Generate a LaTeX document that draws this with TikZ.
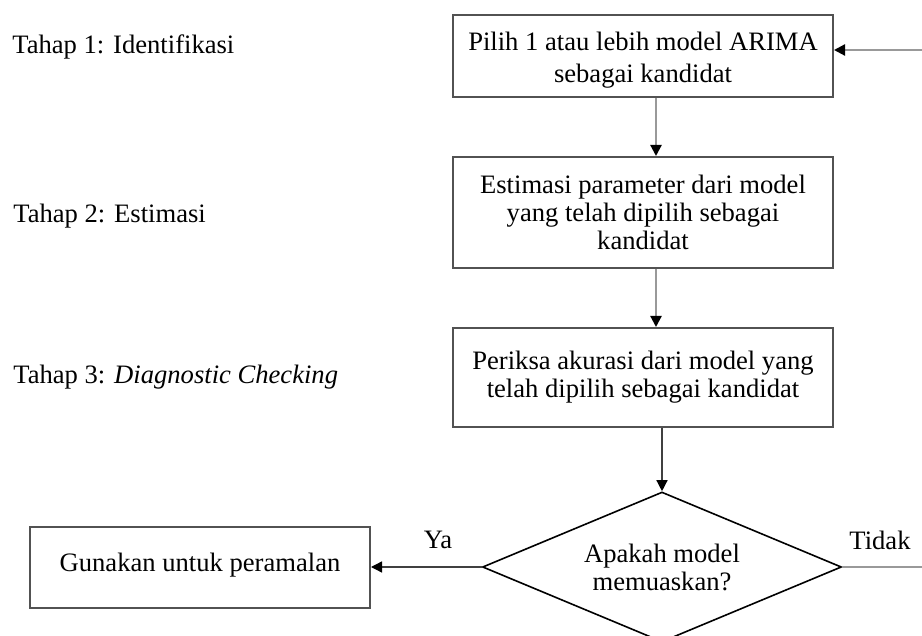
\documentclass[tikz,border=0pt]{standalone}
\usepackage{fontspec}
\setmainfont{Liberation Serif}
\usetikzlibrary{arrows.meta,shapes.geometric}
\begin{document}
\begin{tikzpicture}[x=0.5pt,y=-0.5pt,
  every node/.style={font=\fontsize{13.3}{14}\selectfont, text=black},
  procbox/.style={draw=black!68, line width=1pt, rectangle, align=center, minimum width=190pt, inner sep=0pt},
  decbox/.style={draw=black, line width=0.8pt, diamond, aspect=2.39, align=center, minimum width=179.5pt, minimum height=75pt, inner sep=0pt},
  stagelbl/.style={anchor=west, inner sep=0pt},
  tip/.style={-{Triangle[length=5.5pt,width=5.5pt,color=black]}},
  grayline/.style={draw=black!40, line width=1.1pt},
  darkline/.style={draw=black!75, line width=0.7pt}
]
\useasboundingbox (0,0) rectangle (922,636);

% stage labels
\node[stagelbl] (t1) at (12,47) {Tahap 1: Identifikasi};
\node[stagelbl] (t2) at (13,216) {Tahap 2: Estimasi};
\node[stagelbl] (t3) at (13,377) {Tahap 3: \textit{Diagnostic Checking}};

% process boxes
\node[procbox, minimum height=41pt] (b1) at (643,56) {\raisebox{-2.3pt}[\height][\depth]{\begin{tabular}{@{}c@{}}Pilih 1 atau lebih model ARIMA\\[2pt] sebagai kandidat\end{tabular}}};
\node[procbox, minimum height=55.5pt] (b2) at (643,212.5) {\raisebox{-5.5pt}[0pt][0pt]{\begin{tabular}{@{}c@{}}Estimasi parameter dari model\\yang telah dipilih sebagai\\kandidat\end{tabular}}};
\node[procbox, minimum height=49.5pt] (b3) at (643,377.5) {Periksa akurasi dari model yang\\telah dipilih sebagai kandidat};

% decision
\node[decbox] (d) at (662,567) {Apakah model\\memuaskan?};

% output box
\node[procbox, minimum width=170pt, minimum height=40.5pt] (out) at (200,567.5) {\raisebox{5.2pt}{Gunakan untuk peramalan}};

% branch labels
\node (ya) at (438,540) {Ya};
\node (tidak) at (880,540) {Tidak};

% helper coordinates
\coordinate (cx) at (656,0);
\coordinate (r1) at (940,567);
\coordinate (r2) at (940,50);

% connectors
\draw[grayline, tip] (b1.south -| cx) -- (b2.north -| cx);
\draw[grayline, tip] (b2.south -| cx) -- (b3.north -| cx);
\draw[darkline, tip] (b3.south -| d.north) -- (d.north);
\draw[darkline, tip] (d.west) -- (out.east |- d.west);
\draw[grayline, tip] (d.east) -- (r1) -- (r2) -- (b1.east |- r2);
\end{tikzpicture}
\end{document}
